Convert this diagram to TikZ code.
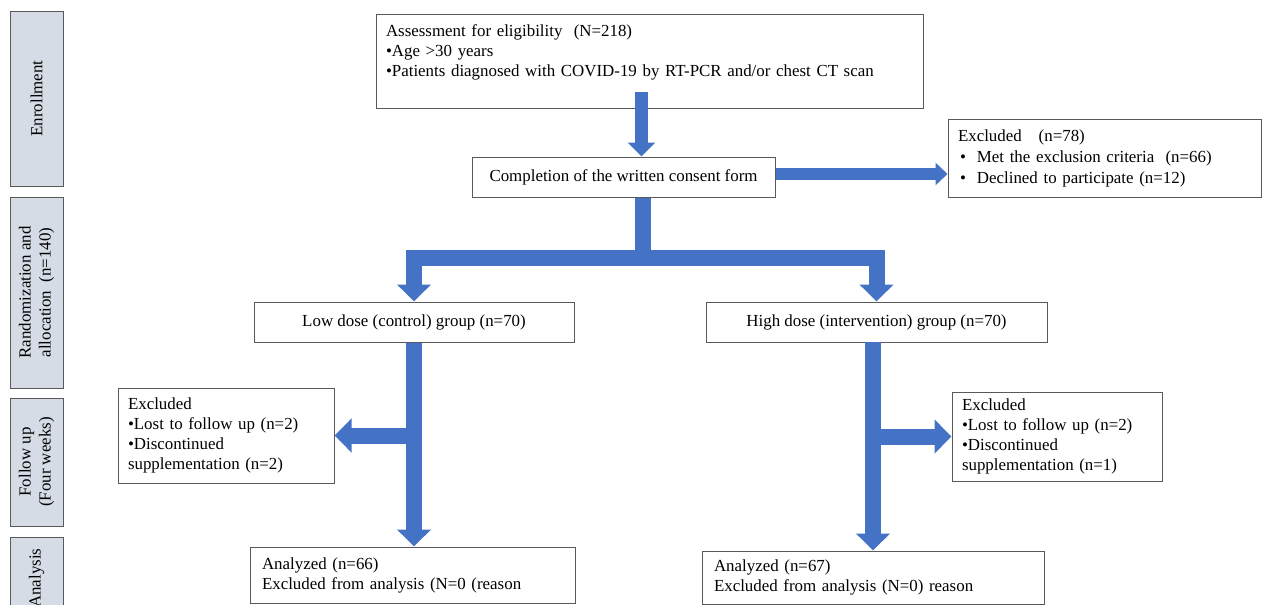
\documentclass[tikz,border=0pt]{standalone}
\usepackage{fontspec}
\setmainfont{Liberation Serif}
\usetikzlibrary{arrows.meta,calc}
\definecolor{arrowblue}{HTML}{4472C4}
\definecolor{barfill}{HTML}{D6DCE5}
\definecolor{edgegray}{HTML}{595959}
\begin{document}
\begin{tikzpicture}[x=1pt,y=-1pt,
  txt/.style={font=\fontsize{16.9}{20}\selectfont},
  box/.style={txt, draw=edgegray, line width=1pt, fill=white, inner sep=0pt},
  phase/.style={txt, draw=edgegray, line width=1pt, fill=barfill, inner sep=0pt, minimum width=53pt},
  phasetext/.style={txt, rotate=90, align=center, inner sep=0pt},
  bigarrow/.style={draw=arrowblue, line width=16pt, line join=miter, -{Triangle[length=17pt,width=33pt]}},
  bigshaft/.style={draw=arrowblue, line width=16pt, line join=miter},
  toparrow/.style={draw=arrowblue, line width=13pt, -{Triangle[length=14pt,width=27pt]}},
  sidearrow/.style={draw=arrowblue, line width=12pt, -{Triangle[length=12pt,width=22pt]}}
]
\useasboundingbox (0,0) rectangle (1262,605);
\clip (0,0) rectangle (1262,605);

% phase bars
\node[phase, minimum height=175pt] (pEnr) at (36.5,98.5) {};
\node[phasetext] (tEnr) at (pEnr.center) {Enrollment};
\node[phase, minimum height=191pt] (pRand) at (36.5,292.5) {};
\node[phasetext] (tRand) at (pRand.center) {Randomization and\\allocation~ (n=140)};
\node[phase, minimum height=128pt] (pFol) at (36.5,462) {};
\node[phasetext] (tFol) at (pFol.center) {Follow up\\(Four weeks)};
\node[phase, minimum height=120pt] (pAna) at (36.5,597) {};
\node[phasetext, anchor=west] (tAna) at (36.5,608) {Analysis};

% boxes
\node[box, minimum width=547pt, minimum height=94pt, text width=527pt, align=left] (assess) at (649.5,61)
  {Assessment for eligibility~ (N=218)\\•Age >30 years\\•Patients diagnosed with COVID-19 by RT-PCR and/or chest CT scan\\\mbox{}};
\node[box, minimum width=303pt, minimum height=40pt] (comp) at (623.5,177) {Completion of the written consent form};
\node[box, minimum width=313pt, minimum height=78pt, text width=293pt, align=left] (excl) at (1104.5,158)
  {Excluded~~ (n=78)\\[1pt]\hspace*{2pt}•\hspace{11pt}Met the exclusion criteria~ (n=66)\\[1pt]\hspace*{2pt}•\hspace{11pt}Declined to participate (n=12)};
\node[box, minimum width=320pt, minimum height=40pt] (low) at (414,322) {Low dose (control) group (n=70)};
\node[box, minimum width=341pt, minimum height=40pt] (high) at (876.5,322) {High dose (intervention) group (n=70)};
\node[box, minimum width=216pt, minimum height=95pt, text width=196pt, align=left] (exL) at (226,435.5)
  {Excluded\\•Lost to follow up (n=2)\\•Discontinued\\supplementation (n=2)};
\node[box, minimum width=210pt, minimum height=89pt, text width=190pt, align=left] (exR) at (1057,436.5)
  {Excluded\\•Lost to follow up (n=2)\\•Discontinued\\supplementation (n=1)};
\node[box, minimum width=325pt, minimum height=56pt, text width=301pt, align=left] (anL) at (412.5,575)
  {Analyzed (n=66)\\Excluded from analysis (N=0 (reason};
\node[box, minimum width=342pt, minimum height=53pt, text width=318pt, align=left] (anR) at (873,577.5)
  {Analyzed (n=67)\\Excluded from analysis (N=0) reason};

% connectors
\coordinate (a0) at (641.5,92);
\draw[toparrow] (a0) -- (a0 |- comp.north);
\draw[sidearrow] ($(comp.east)+(0,-3)$) -- ($(comp.east -| excl.west)+(0,-3)$);
\coordinate (split) at (643,257.5);
\draw[bigshaft] (split |- comp.south) -- (split);
\draw[bigarrow] (split) -| (low.north);
\draw[bigarrow] (split) -| (high.north);
\draw[bigarrow] (low.south) -- (low.south |- anL.north);
\draw[bigarrow] (low.south |- exL.east) -- (exL.east);
\coordinate (r0) at (873,342);
\draw[bigarrow] (r0) -- (r0 |- anR.north);
\draw[bigarrow] (r0 |- exR.west) -- (exR.west);
\end{tikzpicture}
\end{document}
